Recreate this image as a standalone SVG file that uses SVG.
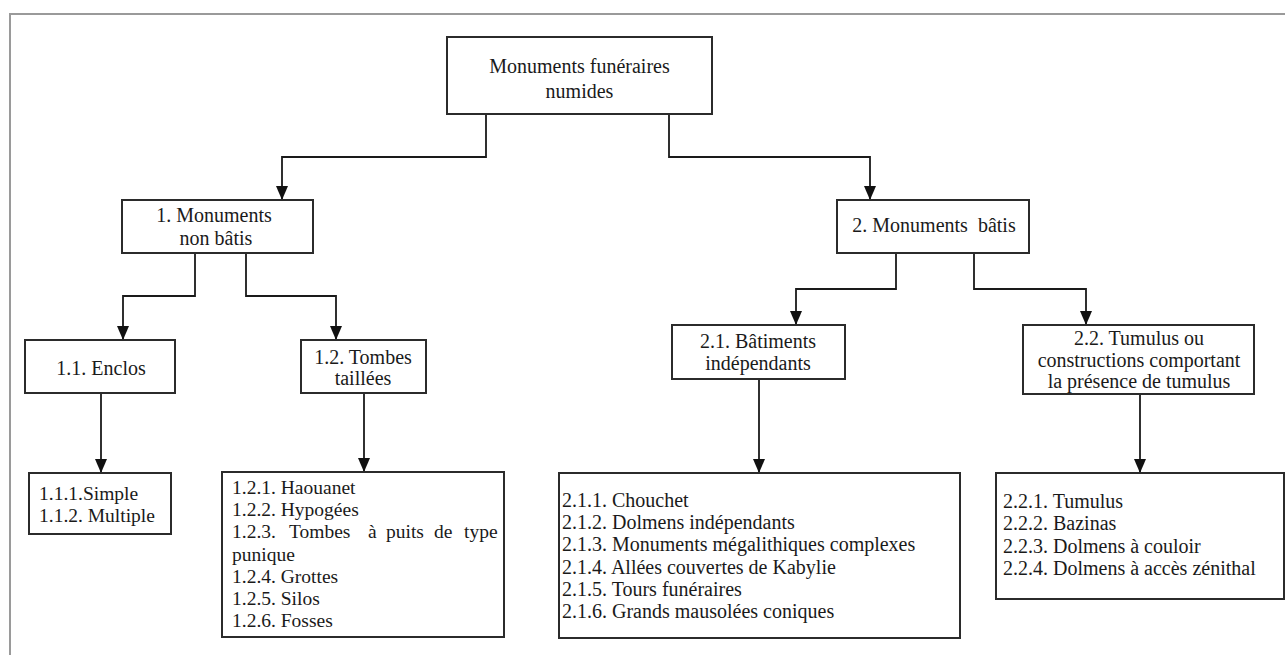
<svg xmlns="http://www.w3.org/2000/svg" width="1285" height="655" viewBox="0 0 1285 655">
<style>
.box{fill:#fff;stroke:#2b2b2b;stroke-width:2}
.lbl{font-family:"Liberation Serif","Times New Roman",serif;font-size:20px;fill:#1a1a1a;text-anchor:middle}
.lst{font-family:"Liberation Serif","Times New Roman",serif;font-size:19.5px;fill:#1a1a1a}
.lst2{font-family:"Liberation Serif","Times New Roman",serif;font-size:20px;fill:#1a1a1a}
.con{fill:none;stroke:#1a1a1a;stroke-width:1.8;marker-end:url(#arr)}
</style>
<defs>
<marker id="arr" markerUnits="userSpaceOnUse" markerWidth="14" markerHeight="12" refX="13" refY="6" orient="auto">
<path d="M0,0 L14,6 L0,12 z" fill="#111"/>
</marker>
</defs>
<rect width="1285" height="655" fill="#fff"/>
<path d="M10,655 V14 H1285" fill="none" stroke="#9a9a9a" stroke-width="2"/>
<g id="connectors">
<path class="con" d="M486,114 V157 H282 V199"/>
<path class="con" d="M669,114 V157 H870 V199"/>
<path class="con" d="M195,253 V296 H123 V339"/>
<path class="con" d="M246,253 V296 H336 V339"/>
<path class="con" d="M101,393 V472"/>
<path class="con" d="M364,393 V471"/>
<path class="con" d="M896,253 V289 H796 V324"/>
<path class="con" d="M974,253 V289 H1086 V324"/>
<path class="con" d="M759,379 V472"/>
<path class="con" d="M1140,394 V472"/>
</g>
<g id="root">
<rect class="box" x="447" y="37" width="265" height="77"/>
<text class="lbl" x="579.5" y="73">Monuments funéraires</text>
<text class="lbl" x="579.5" y="98">numides</text>
</g>
<g id="n1">
<rect class="box" x="122" y="200" width="191" height="53"/>
<text class="lbl" x="214" y="222">1. Monuments</text>
<text class="lbl" x="216" y="245">non bâtis</text>
</g>
<g id="n2">
<rect class="box" x="837" y="200" width="192" height="53"/>
<text class="lbl" x="934" y="232" xml:space="preserve">2. Monuments  bâtis</text>
</g>
<g id="n11">
<rect class="box" x="25" y="340" width="150" height="53"/>
<text class="lbl" x="101" y="375">1.1. Enclos</text>
</g>
<g id="n12">
<rect class="box" x="301" y="340" width="125" height="53"/>
<text class="lbl" x="363" y="364">1.2. Tombes</text>
<text class="lbl" x="363" y="385">taillées</text>
</g>
<g id="n21">
<rect class="box" x="672" y="325" width="173" height="54"/>
<text class="lbl" x="758" y="348">2.1. Bâtiments</text>
<text class="lbl" x="758" y="370">indépendants</text>
</g>
<g id="n22">
<rect class="box" x="1023" y="325" width="231" height="69"/>
<text class="lbl" x="1139" y="345">2.2. Tumulus ou</text>
<text class="lbl" x="1139" y="367">constructions comportant</text>
<text class="lbl" x="1139" y="388">la présence de tumulus</text>
</g>
<g id="n111">
<rect class="box" x="29" y="473" width="142" height="61"/>
<text class="lst" x="39" y="500">1.1.1.Simple</text>
<text class="lst" x="39" y="522">1.1.2. Multiple</text>
</g>
<g id="n121">
<rect class="box" x="222" y="472" width="282" height="165"/>
<text class="lst" x="232" y="494">1.2.1. Haouanet</text>
<text class="lst" x="232" y="516">1.2.2. Hypogées</text>
<text class="lst" y="538"><tspan x="232">1.2.3.</tspan><tspan x="289">Tombes</tspan><tspan x="368">à</tspan><tspan x="386">puits</tspan><tspan x="434">de</tspan><tspan x="464">type</tspan></text>
<text class="lst" x="232" y="561">punique</text>
<text class="lst" x="232" y="583">1.2.4. Grottes</text>
<text class="lst" x="232" y="605">1.2.5. Silos</text>
<text class="lst" x="232" y="627">1.2.6. Fosses</text>
</g>
<g id="n211">
<rect class="box" x="559" y="473" width="401" height="165"/>
<text class="lst2" x="562" y="507">2.1.1. Chouchet</text>
<text class="lst2" x="562" y="529">2.1.2. Dolmens indépendants</text>
<text class="lst2" x="562" y="551">2.1.3. Monuments mégalithiques complexes</text>
<text class="lst2" x="562" y="574">2.1.4. Allées couvertes de Kabylie</text>
<text class="lst2" x="562" y="596">2.1.5. Tours funéraires</text>
<text class="lst2" x="562" y="618">2.1.6. Grands mausolées coniques</text>
</g>
<g id="n221">
<rect class="box" x="996" y="473" width="288" height="126"/>
<text class="lst2" x="1003" y="508">2.2.1. Tumulus</text>
<text class="lst2" x="1003" y="530">2.2.2. Bazinas</text>
<text class="lst2" x="1003" y="553">2.2.3. Dolmens à couloir</text>
<text class="lst2" x="1003" y="575">2.2.4. Dolmens à accès zénithal</text>
</g>
</svg>
